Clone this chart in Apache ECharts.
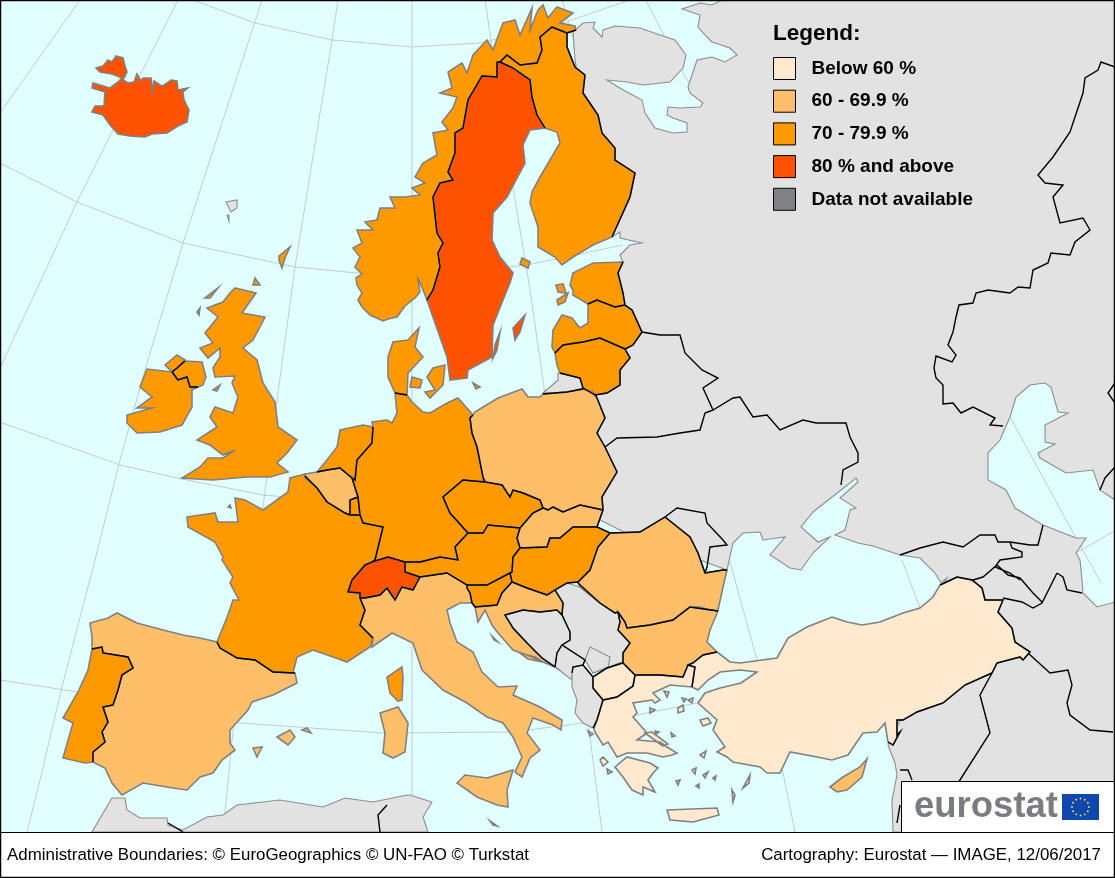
<!DOCTYPE html>
<html>
<head>
<meta charset="utf-8">
<title>Eurostat map</title>
<script src="https://cdn.jsdelivr.net/npm/echarts@6/dist/echarts.min.js"></script>
<style>
  html, body { margin: 0; padding: 0; background: #fff; }
  #chart { width: 1115px; height: 878px; }
</style>
</head>
<body>
<div id="chart"></div>
<script>
// values are read from the class colour of each country, so they are estimates
const countries = ['Iceland', 'Norway', 'Sweden', 'Finland', 'Estonia', 'Latvia', 'Lithuania', 'Denmark',
  'United Kingdom', 'Ireland', 'Netherlands', 'Belgium', 'Luxembourg', 'Germany', 'Poland', 'Czechia', 'Slovakia',
  'Austria', 'Hungary', 'Slovenia', 'Croatia', 'Romania', 'Bulgaria', 'France', 'Switzerland', 'Italy', 'Spain',
  'Portugal', 'Greece', 'North Macedonia', 'Turkey', 'Cyprus', 'Malta']
const rates = [87.8, 79.4, 81.2, 73.4, 76.6, 73.2, 75.2, 77.4,
  77.5, 71.4, 77.1, 67.7, 70.7, 78.6, 69.3, 76.7, 69.8,
  74.8, 71.5, 70.1, 61.4, 66.3, 67.7, 70.0, 83.3, 61.6, 63.9,
  70.6, 56.2, 47.8, 54.3, 68.7, 69.6]
const noDataLand = ['East', 'Kaliningrad', 'Serbia', 'Bosnia', 'Montenegro', 'Kosovo', 'Albania', 'Faroe', 'NorthAfrica']

const classLabels = ['Below 60 %', '60 - 69.9 %', '70 - 79.9 %', '80 % and above', 'Data not available']
const classFloors = [0, 60, 70, 80]
const classColors = ['#FFE9CF', '#FFBF69', '#FF9900', '#FF5200', '#7E8286']

const landGrey = '#E2E2E2'
const seaColor = '#E2FFFF'

// map outlines, one string per ring
const outlines = {
  Iceland: ['96,68 103,66 108,60 112,62 116,56 123,58 125,66 127,72 123,80 128,83 134,82 137,74 141,81 143,78 151,78 153,92 154,81 160,85 163,86 171,80 177,81 178,90 188,88 183,92 184,100 189,110 187,122 178,126 167,133 152,134 145,137 130,136 118,134 110,125 103,115 92,112 95,106 104,106 105,92 92,88 93,83 110,88 118,82 122,78 112,74 100,72'],
  Faroe: ['226,202 237,200 237,208 231,212 228,206', '227,215 229,215 229,221'],
  East: [
    '573,32 583,23 595,22 593,28 602,37 603,30 615,26 640,28 660,35 675,40 686,55 683,68 670,82 643,85 627,82 607,80 618,87 627,92 642,100 645,113 655,128 673,133 687,132 687,123 673,118 667,115 668,107 680,108 700,107 703,103 690,93 688,87 697,60 712,57 725,62 737,55 730,48 712,42 707,37 698,27 700,15 682,9 700,3 712,5 722,0 1115,0 1115,500 1100,490 1093,470 1066,473 1040,458 1038,453 1055,444 1045,442 1045,425 1068,413 1058,412 1051,387 1045,383 1030,385 1016,397 1010,417 1000,440 988,453 988,480 1006,490 1015,508 1043,525 1076,538 1086,538 1076,553 1080,560 1082,580 1083,593 1097,607 1115,602 1115,832 893,832 892,800 897,775 895,763 888,745 940,640 940,590 947,578 941,583 935,573 920,558 900,555 873,546 858,543 835,535 845,530 850,510 856,508 840,498 858,482 856,478 841,490 813,512 801,527 818,542 830,537 813,553 801,570 790,568 770,555 785,537 763,540 760,532 743,533 733,543 727,570 700,560 640,540 590,515 590,440 600,370 610,330 610,300 620,262 623,262 620,255 630,245 642,243 620,238 620,232 612,237 600,200 590,150 575,60'
  ],
  Kaliningrad: ['558,373 580,378 583,388 567,392 543,393 550,387 558,380'],
  Serbia: ['555,590 567,583 580,587 600,603 615,613 618,612 620,622 618,630 630,643 623,653 623,663 607,668 593,673 585,660 562,645 570,640 570,632 562,615 563,603'],
  Bosnia: ['505,615 523,610 540,612 557,610 562,615 570,632 570,640 562,645 557,653 555,667 542,658 527,643 513,628'],
  Montenegro: ['555,667 557,653 562,645 585,660 583,665 573,667 572,680'],
  Kosovo: ['585,660 590,647 610,657 608,667 593,673'],
  Albania: ['572,673 573,667 583,665 593,677 593,688 603,700 597,720 593,728 583,723 575,713 577,700 572,687'],
  NorthAfrica: ['92,832 112,798 125,798 127,810 140,818 167,818 168,825 183,830 207,817 223,815 237,805 280,800 323,807 345,798 373,802 407,795 410,795 432,802 423,817 428,832'],
  Norway: ['427,300 421,285 418,279 420,292 415,298 405,306 397,317 388,319 383,321 370,315 362,307 358,300 362,293 357,285 356,278 362,274 355,267 360,257 353,248 362,243 357,230 373,230 365,222 377,220 380,208 395,208 390,197 405,197 420,195 412,188 425,183 415,177 423,163 437,155 433,133 448,130 442,122 453,108 457,97 440,93 452,88 448,72 462,63 467,73 473,55 487,40 493,50 503,23 515,20 520,35 532,8 530,30 538,10 543,5 548,18 557,7 573,13 560,23 575,26 576,30 567,33 552,27 540,37 542,50 537,63 520,65 507,55 500,62 497,62 497,77 482,76 475,88 468,100 463,128 455,133 455,153 448,172 453,180 440,183 433,197 437,233 443,243 438,253 440,267 433,290'],
  Sweden: ['427,300 433,290 440,267 438,253 443,243 437,233 433,197 440,183 453,180 448,172 455,153 455,133 463,128 468,100 475,88 482,76 497,77 497,62 500,62 513,68 530,80 532,97 537,115 545,128 530,130 523,145 525,163 507,197 493,213 492,240 500,257 513,273 510,283 507,290 493,325 492,357 468,370 467,378 450,380 447,357', '513,328 525,315 520,332 515,340', '500,332 497,350 493,358 495,345'],
  Finland: ['500,62 507,55 520,65 537,63 542,50 540,37 552,27 567,33 567,47 575,67 585,75 583,93 598,115 602,133 615,148 615,160 635,173 630,197 612,237 593,245 573,257 562,265 555,257 538,247 538,227 530,203 532,192 540,177 560,143 557,132 545,128 537,115 532,97 530,80 513,68', '522,258 530,262 528,268 520,264'],
  Estonia: ['573,290 573,295 588,304 597,300 615,307 625,305 623,293 618,273 623,262 593,263 573,273 570,285', '557,300 568,293 565,302 558,305', '556,285 563,284 566,293 558,292'],
  Latvia: ['552,347 553,330 562,315 572,318 580,328 588,323 588,304 597,300 615,307 625,305 632,310 642,332 633,345 625,349 600,338 583,342 563,345 555,353'],
  Lithuania: ['555,353 563,345 583,342 600,338 625,349 630,358 620,370 620,385 607,393 595,395 583,388 580,378 560,373 557,365'],
  Denmark: ['395,393 388,377 388,357 393,342 408,340 419,328 415,347 423,357 408,373 407,395', '427,377 433,368 445,365 443,385 430,398 425,392 435,390', '412,377 422,380 420,388 410,387', '473,383 480,387 476,389'],
  'United Kingdom': [
    '235,288 256,293 242,313 265,317 253,340 243,348 257,360 263,383 275,402 278,427 297,440 287,453 277,463 288,472 270,477 247,477 213,480 182,478 200,467 208,458 223,458 235,450 223,455 210,445 197,440 217,427 210,417 215,407 233,413 238,397 232,383 235,376 215,377 213,368 220,357 220,348 208,358 200,348 213,343 205,333 218,317 207,308 223,302 230,293',
    '205,298 218,288 210,298', '197,312 200,308 199,315', '253,285 260,285 255,278', '279,256 290,247 285,258 282,268 279,260', '213,390 220,385 217,391',
    '172,372 177,368 185,361 202,362 206,377 203,385 198,387 190,387 187,377 178,380'
  ],
  Ireland: ['185,360 177,355 165,365 172,372 147,369 140,387 152,397 137,408 152,408 127,415 127,423 137,433 160,432 182,425 192,407 192,390 198,387 190,387 187,377 178,380 172,372 177,368'],
  Netherlands: ['317,472 327,460 337,447 340,430 363,425 373,427 372,443 357,460 355,480 352,478 340,468 327,470'],
  Belgium: ['305,474 317,472 327,470 340,468 352,478 358,497 350,500 350,515 345,513 327,502 317,488 305,478'],
  Luxembourg: ['358,497 360,515 350,515 350,500'],
  Germany: ['373,427 372,422 387,420 392,423 397,413 395,393 407,395 412,402 423,412 430,413 447,403 458,398 473,415 470,418 472,433 477,447 483,477 483,482 463,480 443,497 450,513 468,533 455,547 458,560 440,557 420,562 405,562 388,557 372,562 375,560 383,527 363,523 360,515 358,497 352,478 355,480 357,460 372,443'],
  Poland: ['475,412 498,398 522,389 528,397 540,397 543,394 567,392 583,389 593,392 597,398 605,418 597,433 605,447 617,472 602,497 603,510 580,505 563,512 553,507 548,510 543,508 540,500 523,493 513,490 510,497 502,485 485,482 483,477 477,447 472,433 470,418'],
  Czechia: ['443,497 463,480 485,482 502,485 510,497 513,490 523,493 540,500 543,508 533,513 520,528 488,525 483,533 468,533 450,513'],
  Slovakia: ['543,508 548,510 553,507 563,512 580,505 603,510 597,527 573,527 560,538 550,538 547,547 520,548 517,538 520,528 533,513'],
  Austria: ['468,533 483,533 488,525 520,528 517,538 520,548 513,557 512,572 510,573 487,585 467,585 447,573 420,577 405,572 405,562 420,562 440,557 458,560 455,547'],
  Hungary: ['520,548 547,547 550,538 560,538 573,527 597,527 610,533 598,547 590,570 578,582 567,583 555,590 547,595 527,588 512,582 510,573 512,572 513,557'],
  Slovenia: ['467,588 467,585 487,585 510,573 512,582 502,593 497,605 475,607 472,603 470,593'],
  Croatia: ['475,607 497,605 502,593 512,582 527,588 547,595 555,590 563,603 562,615 557,610 540,612 523,610 505,615 513,628 527,643 542,658 555,667 543,662 527,655 513,650 498,633 492,625 485,610 478,622', '492,636 498,642 494,640', '520,653 535,657 543,662 528,659'],
  Romania: ['610,533 640,532 665,517 690,537 698,553 705,573 723,570 727,570 723,587 718,610 717,612 700,607 690,607 673,620 650,625 627,628 625,622 618,612 615,613 600,603 580,587 578,582 590,570 598,547'],
  Bulgaria: ['618,612 625,622 627,628 650,625 673,620 690,607 718,611 710,630 707,642 717,652 703,655 693,663 688,665 683,677 660,675 635,675 623,663 623,653 630,643 618,630 620,622'],
  France: [
    '187,517 215,513 218,522 238,522 235,498 245,500 263,510 288,492 290,478 305,474 305,478 317,488 327,502 345,513 350,515 360,515 363,523 383,527 375,560 372,562 365,565 352,580 348,592 360,593 360,598 365,610 360,625 373,638 370,647 347,662 333,657 313,650 297,657 293,673 273,672 255,660 237,658 220,648 217,642 228,615 233,600 239,600 230,583 233,577 222,560 223,557 215,542 188,527',
    '402,667 403,677 402,700 398,701 390,693 387,677', '228,507 230,505 231,508'
  ],
  Switzerland: ['348,592 352,580 365,565 372,562 388,557 405,562 405,572 420,577 413,590 402,587 395,600 387,588 380,595 365,598 360,598 360,593'],
  Italy: [
    '360,598 365,598 380,595 387,588 395,600 402,587 413,590 420,577 447,573 467,585 467,588 470,593 472,603 460,603 447,610 450,623 457,642 473,652 482,672 498,687 517,686 513,695 540,707 562,720 561,730 553,725 533,718 527,733 540,750 530,758 522,777 515,772 522,757 513,737 503,723 487,717 467,703 443,690 422,670 413,643 392,633 372,647 373,638 360,625 365,610',
    '457,783 465,775 487,778 513,770 507,790 508,807 497,805 477,797',
    '380,713 398,707 408,723 405,752 393,758 383,753 385,733'
  ],
  Spain: [
    '90,623 108,618 117,613 137,623 163,630 183,635 200,638 217,642 220,648 237,658 255,660 273,672 295,673 297,683 273,695 252,702 248,710 230,730 230,743 235,750 222,760 213,773 200,777 187,790 173,788 143,783 122,795 112,783 105,768 93,762 93,752 105,742 102,732 108,722 103,707 113,705 118,690 122,675 133,668 128,657 103,653 102,647 92,649 92,637',
    '277,737 290,730 295,737 288,745', '302,730 307,728 311,733', '253,748 262,747 257,757'
  ],
  Portugal: ['92,649 102,647 103,653 128,657 133,668 122,675 118,690 113,705 103,707 108,722 102,732 105,742 93,752 93,762 85,763 63,758 73,723 63,718 78,692 88,670'],
  Greece: [
    '594,729 597,720 603,700 617,697 633,686 635,675 660,675 683,677 688,665 695,667 692,687 670,685 653,693 660,700 655,703 652,700 633,703 637,713 633,717 640,725 647,733 637,740 660,742 667,747 677,753 672,755 663,757 647,753 627,753 617,757 608,742 603,745 595,732',
    '615,767 627,757 650,763 658,768 653,773 648,780 655,792 643,787 643,795 632,790 623,777',
    '667,810 717,808 719,815 693,822 670,820', '645,733 652,732 668,744 663,746',
    '588,731 593,734 590,736', '603,757 608,762 603,766 600,760', '607,769 612,772 608,774',
    '664,691 669,692 667,697', '682,698 686,699 684,702', '688,700 693,698 692,703', '678,708 683,705 684,711 678,713',
    '650,708 655,710 650,713', '655,731 659,732 656,734', '671,733 675,736 672,737', '700,720 708,718 711,723 703,726',
    '700,755 706,751 704,758', '692,770 696,768 695,774', '676,781 680,780 678,785', '703,775 708,772 705,778', '713,778 716,776 715,780',
    '696,786 699,784 699,788', '732,790 735,795 733,802', '743,788 750,775 749,783'
  ],
  'North Macedonia': ['593,677 607,668 620,663 623,663 635,675 633,686 617,697 603,700 593,688'],
  Turkey: ['717,652 730,662 740,663 777,658 788,638 807,627 832,617 847,622 862,625 880,622 903,613 920,608 933,597 940,585 957,577 972,580 982,588 985,600 1003,600 998,612 1012,628 1015,642 1030,652 1023,660 1020,657 997,663 992,673 965,685 943,703 917,712 903,720 897,720 897,735 900,732 893,745 888,742 885,723 877,732 863,733 848,755 832,760 817,757 790,752 780,773 767,773 760,767 733,762 727,757 717,752 725,747 713,730 717,720 698,703 705,693 720,688 741,683 757,672 740,670 720,672 708,680 698,690 692,687 695,667 688,665 693,663 703,655'],
  Cyprus: ['830,787 843,777 860,767 867,759 862,777 847,790 837,792'],
  Malta: ['490,821 497,826 493,825']
}

const graticule = [
  '80,0 0,113', '178,0 140,75 112,132 77,202 35,293 0,368',
  '262,0 183,243 145,370 120,460 95,560 62,687 40,780 27,832',
  '338,0 332,40 295,267 277,400 263,507 232,740 225,813', '412,0 412,832',
  '485,0 513,187 530,290 543,380 590,737 602,832', '562,0 730,562 757,660 783,773 795,832',
  '647,2 683,73 702,103', '902,560 920,608', '1010,417 1076,538 1101,583',
  '193,0 255,23 332,40 412,47 480,43 557,25 630,0',
  '0,163 77,202 183,243 295,267 357,273 420,276 527,265 623,245',
  '0,422 120,465 182,479 263,495 285,497',
  '0,680 78,692 240,723 383,733 513,732 583,723 637,715 697,703', '1076,553 1113,532'
]

// land borders, drawn over the grey coast
const landBorders = [
  '497,62 497,77 482,76 475,88 468,100 463,128 455,133 455,153 448,172 453,180 440,183 433,197 437,233 443,243 438,253 440,267 433,290 427,300',
  '497,62 500,62 507,55 520,65 537,63 542,50 540,37 552,27 567,33 567,47 575,67 585,75 583,93 598,115 602,133 615,148 615,160 635,173 630,197 612,237',
  '500,62 513,68 530,80 532,97 537,115 545,128', '567,33 576,30',
  '623,262 618,273 623,293 625,305 632,310 642,332 660,335 680,335 685,353 702,370 718,378 703,388 713,410 733,398 740,397 753,417 767,415 780,430 803,420 816,423 846,423 850,437 858,453 858,462 843,470 841,485',
  '588,304 597,300 615,307 625,305', '642,332 633,345 625,349 630,358 620,370 620,385 607,393 595,395 583,388 580,378 560,373',
  '555,353 563,345 583,342 600,338 625,349', '583,389 567,392 543,394',
  '595,394 597,398 605,418 597,433 605,447 617,472 602,497 603,510 597,527 610,533 640,532 665,517 690,537 698,553 705,573 723,570 727,570',
  '713,410 705,413 700,430 680,433 657,437 617,438 605,447',
  '665,517 677,508 705,513 707,523 723,540 727,545 710,547 707,567 705,573',
  '603,510 580,505 563,512 553,507 548,510 543,508 540,500 523,493 513,490 510,497 502,485 485,482 483,477 477,447 472,433 470,418 473,415',
  '485,482 463,480 443,497 450,513 468,533 483,533 488,525 520,528 533,513 543,508',
  '468,533 455,547 458,560 440,557 420,562 405,562 388,557 372,562 375,560 383,527 363,523 360,515 358,497 352,478 355,480 357,460 372,443 373,427',
  '520,528 517,538 520,548 547,547 550,538 560,538 573,527 597,527', '520,548 513,557 512,572 510,573 487,585 467,585 447,573 420,577 405,572 405,562',
  '510,573 512,582 527,588 547,595 555,590 567,583 578,582 590,570 598,547 610,533', '512,582 502,593 497,605 475,607 472,603 470,593 467,588 467,585',
  '578,583 600,603 615,613 618,612 625,622 627,628 650,625 673,620 690,607 718,611',
  '618,612 620,622 618,630 630,643 623,653 623,663 635,675 660,675 683,677 688,665 695,667 692,687', '688,665 693,663 703,655 717,652',
  '623,663 607,668 593,677 593,688 603,700 617,697 633,686 635,675', '603,700 597,720 593,728', '593,677 583,665 573,667 572,673',
  '583,665 585,660 562,645 557,653 555,667', '562,645 570,640 570,632 562,615 557,610 540,612 523,610 505,615 513,628 527,643 542,658 555,667',
  '555,590 563,603 562,615', '373,638 360,625 365,610 360,598 365,598 380,595 387,588 395,600 402,587 413,590 420,577',
  '372,562 365,565 352,580 348,592 360,593 360,598', '305,476 317,488 327,502 345,513 350,515 360,515', '358,497 350,500 350,515',
  '317,472 327,470 340,468 352,478', '395,393 407,395', '217,642 220,648 237,658 255,660 273,672 295,673',
  '92,649 102,647 103,653 128,657 133,668 122,675 118,690 113,705 103,707 108,722 102,732 105,742 93,752 93,762',
  '172,372 177,368 185,361', '172,372 178,380 187,377 190,387 198,387',
  '940,585 957,577 972,580 982,588 985,600 1003,600 998,612 1012,628 1015,642 1030,652 1023,660 1020,657 997,663 992,673 965,685 943,703 917,712 903,720 897,720 897,735 900,732 893,745 888,742',
  '992,673 980,695 990,733 960,780 945,800', '1028,653 1050,673 1068,670 1072,685 1067,703 1070,715 1090,730 1113,732',
  '900,770 908,770 912,780', '900,805 897,823', '168,823 183,832', '387,805 378,815 380,832',
  '900,555 920,548 943,542 963,547 980,535 995,535 998,542 1010,542 1030,545 1038,545 1043,525',
  '1010,542 1012,548 1022,552 1022,557 1000,560 995,567 1010,573 1020,580', '1057,573 1047,593 1042,603 1033,608 1022,602 1003,598',
  '1057,573 1063,577 1067,590 1082,593', '1042,602 1033,593 1020,578 1008,575 997,565 983,577 973,580',
  '1003,426 990,425 995,418 973,407 961,413 953,403 943,404 943,385 936,378 934,368 936,356 952,362 956,355 948,345 953,332 956,317 959,305 973,303 976,293 988,290 1010,293 1018,287 1030,288 1033,270 1048,263 1051,253 1070,255 1075,242 1090,230 1083,218 1060,223 1053,197 1063,185 1045,183 1038,175 1053,157 1070,132 1083,93 1085,78 1098,70 1101,62 1115,67',
  '1115,383 1108,393 1115,403', '1115,467 1105,478 1100,490'
]

const ring = text => text.split(' ').map(pair => pair.split(',').map(Number))

function feature(name, rings) {
  return {
    type: 'Feature',
    properties: { name: name },
    geometry: { type: 'MultiPolygon', coordinates: rings.map(r => [ring(r)]) }
  }
}

function lineFeature(name, lines) {
  return {
    type: 'Feature',
    properties: { name: name },
    geometry: { type: 'MultiLineString', coordinates: lines.map(ring) }
  }
}

const geoJson = {
  type: 'FeatureCollection',
  features: [lineFeature('graticule', graticule)]
    .concat(noDataLand.map(n => feature(n, outlines[n])))
    .concat(countries.map(n => feature(n, outlines[n])))
    .concat([lineFeature('borders', landBorders)])
}
echarts.registerMap('europe', geoJson)

function classColor(value) {
  let idx = 0
  classFloors.forEach((floor, i) => { if (value >= floor) idx = i })
  return classColors[idx]
}

const mapData = [{ name: 'graticule', itemStyle: { areaColor: 'none', borderColor: '#C2CBCB', borderWidth: 1 } }]
noDataLand.forEach(n => mapData.push({ name: n, itemStyle: { areaColor: landGrey, borderColor: '#8C8C8C', borderWidth: 1.1 } }))
countries.forEach((n, i) => mapData.push({
  name: n, value: rates[i],
  itemStyle: { areaColor: classColor(rates[i]), borderColor: '#808080', borderWidth: 1.6 }
}))
mapData.push({ name: 'borders', itemStyle: { areaColor: 'none', borderColor: '#000', borderWidth: 1.4 } })

// empty series, only here so the legend component can list the classes
const legendSeries = classLabels.map((label, i) => ({
  name: label,
  type: 'custom',
  coordinateSystem: 'none',
  renderItem: () => null,
  itemStyle: { color: classColors[i] },
  data: []
}))

// EU flag stars
const stars = []
for (let i = 0; i < 12; i++) {
  const a = i * Math.PI / 6
  stars.push({
    type: 'circle', z: 12,
    shape: { cx: 1080.5 + 8.5 * Math.sin(a), cy: 807 - 8.5 * Math.cos(a), r: 0.9 },
    style: { fill: '#FFE94A' }
  })
}

const myChart = echarts.init(document.getElementById('chart'))
myChart.setOption({
  backgroundColor: seaColor,
  animation: false,
  title: {
    text: 'Legend:', left: 773, top: 22, padding: 0, z: 12,
    textStyle: { fontFamily: 'Liberation Sans', fontSize: 22.5, fontWeight: 'bold', color: '#000' }
  },
  legend: {
    orient: 'vertical', left: 773, top: 57, padding: 0, z: 12,
    icon: 'rect', itemWidth: 22, itemHeight: 22, itemGap: 9.7, selectedMode: false,
    itemStyle: { borderColor: '#000', borderWidth: 1 },
    textStyle: { fontFamily: 'Liberation Sans', fontSize: 19, fontWeight: 'bold', color: '#000', padding: [0, 0, 0, 11] },
    data: classLabels
  },
  series: [{
    type: 'map',
    map: 'europe',
    silent: true,
    roam: false,
    showLegendSymbol: false,
    projection: { project: p => p, unproject: p => p },
    boundingCoords: [[0, 0], [1115, 878]],
    left: 0, top: 0, width: 1115, height: 878,
    label: { show: false },
    emphasis: { disabled: true },
    select: { disabled: true },
    data: mapData
  }].concat(legendSeries),
  graphic: [
    { type: 'rect', z: 10, shape: { x: 0, y: 832, width: 1115, height: 46 }, style: { fill: '#fff' } },
    { type: 'rect', z: 11, shape: { x: 901.5, y: 781.5, width: 213, height: 51 }, style: { fill: '#fff', stroke: '#000', lineWidth: 1 } },
    { type: 'line', z: 11, shape: { x1: 0, y1: 832.5, x2: 1115, y2: 832.5 }, style: { stroke: '#000', lineWidth: 1.2 } },
    { type: 'rect', z: 13, shape: { x: 0.5, y: 0.5, width: 1114, height: 877 }, style: { fill: 'none', stroke: '#000', lineWidth: 1.5 } },
    { type: 'text', z: 12, x: 7, y: 855, style: { text: 'Administrative Boundaries: © EuroGeographics © UN-FAO © Turkstat', font: '16.9px "Liberation Sans"', fill: '#000', verticalAlign: 'middle' } },
    { type: 'text', z: 12, x: 1101, y: 855, style: { text: 'Cartography: Eurostat — IMAGE, 12/06/2017', font: '16.9px "Liberation Sans"', fill: '#000', align: 'right', verticalAlign: 'middle' } },
    { type: 'text', z: 12, x: 914, y: 807, style: { text: 'eurostat', font: 'bold 36.5px "Liberation Sans"', fill: '#7A7D80', verticalAlign: 'middle' } },
    { type: 'rect', z: 12, shape: { x: 1062, y: 794, width: 37, height: 26 }, style: { fill: '#0F47AF' } }
  ].concat(stars)
})
</script>
</body>
</html>
